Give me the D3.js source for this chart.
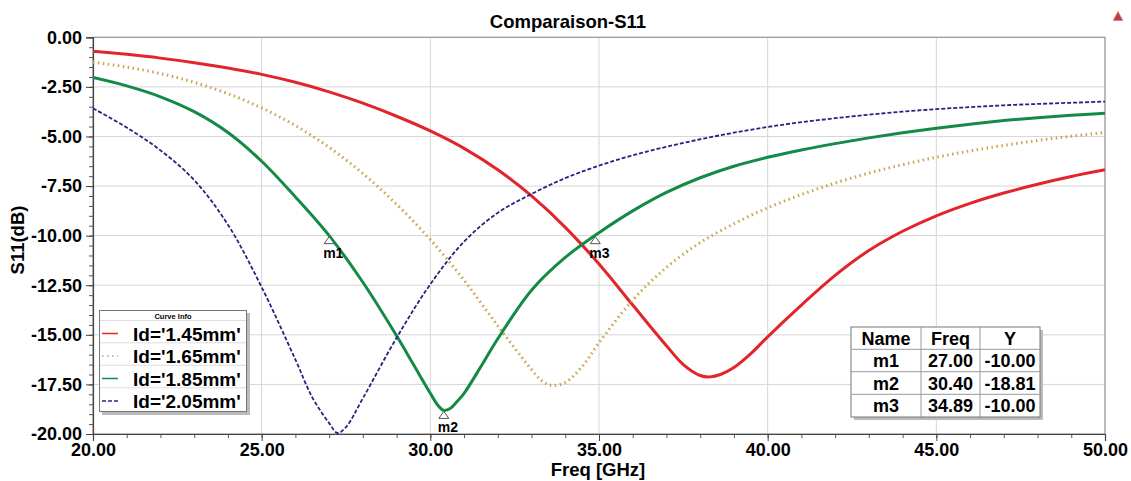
<!DOCTYPE html>
<html><head><meta charset="utf-8">
<script src="https://cdn.jsdelivr.net/npm/d3@7"></script>
<style>
body{margin:0;background:#fff;}
text{font-family:"Liberation Sans",Arial,sans-serif;font-weight:bold;fill:#000;}
</style>
</head><body><script>
const width = 1131, height = 481;

// series data (Freq in GHz, S11 in dB)
const seriesNames = ["Id='1.45mm'", "Id='1.65mm'", "Id='1.85mm'", "Id='2.05mm'"];
const freq145 = [20,21,22,23,24,25,26,27,28,29,30,31,32,33,34,35,36,37,37.5,38,38.3,38.6,39,39.5,40,41,42,43,44,45,46,47,48,49,50];
const s145 = [-0.70,-0.86,-1.05,-1.28,-1.55,-1.87,-2.27,-2.75,-3.32,-3.98,-4.72,-5.60,-6.68,-8.00,-9.58,-11.43,-13.5,-15.55,-16.5,-17.05,-17.12,-17.0,-16.65,-15.95,-15.1,-13.5,-12.0,-10.75,-9.78,-9.0,-8.37,-7.85,-7.41,-7.02,-6.68];
const freq165 = [20,21,22,23,24,25,26,27,28,29,30,31,32,33,33.3,33.6,34,34.5,35,36,37,38,39,40,41,42,43,44,45,46,47,48,49,50];
const s165 = [-1.25,-1.5,-1.83,-2.27,-2.84,-3.56,-4.45,-5.55,-6.87,-8.42,-10.2,-12.25,-14.55,-16.75,-17.3,-17.55,-17.4,-16.6,-15.4,-13.25,-11.6,-10.35,-9.4,-8.6,-7.93,-7.35,-6.85,-6.42,-6.05,-5.73,-5.45,-5.2,-4.99,-4.8];
const freq185 = [20,21,22,23,24,25,26,27,28,29,29.5,30,30.2,30.4,30.6,30.8,31,31.5,32,33,34,35,36,37,38,39,40,41,42,43,44,45,46,47,48,49,50];
const s185 = [-2.03,-2.45,-3.0,-3.75,-4.8,-6.25,-8.05,-10.0,-12.35,-15.05,-16.5,-17.95,-18.5,-18.81,-18.7,-18.35,-17.95,-16.6,-15.2,-12.75,-11.1,-9.85,-8.75,-7.82,-7.08,-6.5,-6.05,-5.68,-5.36,-5.07,-4.81,-4.58,-4.38,-4.2,-4.05,-3.93,-3.83];
const freq205 = [20,21,22,23,24,25,26,26.5,27,27.25,27.5,28,29,30,31,32,33,34,35,36,37,38,39,40,41,42,43,44,45,46,47,48,49,50];
const s205 = [-3.58,-4.55,-5.7,-7.2,-9.45,-12.6,-16.25,-18.15,-19.45,-19.95,-19.65,-18.2,-15.15,-12.45,-10.3,-8.85,-7.9,-7.1,-6.47,-5.95,-5.52,-5.14,-4.81,-4.52,-4.28,-4.08,-3.9,-3.75,-3.62,-3.52,-3.43,-3.36,-3.3,-3.24];

const markerNames = ["m1", "m2", "m3"];
const markerFreq = [27.00, 30.40, 34.89];
const markerY = [-10.00, -18.81, -10.00];

const xTicks = [20, 25, 30, 35, 40, 45, 50];
const yTicks = [0, -2.5, -5, -7.5, -10, -12.5, -15, -17.5, -20];

const colors = ["#e2242b", "#c9a24e", "#138a45", "#24247f"];
const widths = [3, 3, 3, 1.8];
const dashes = [null, "1.5,3.5", null, "4,2"];

const svg = d3.select("body").append("svg").attr("width", width).attr("height", height);
const pL = 93, pR = 1105, pT = 37.3, pB = 434;
const x = d3.scaleLinear().domain([20, 50]).range([pL, pR]);
const y = d3.scaleLinear().domain([-20, 0]).range([pB, pT]);

// title
svg.append("text").attr("x", 568).attr("y", 28).attr("text-anchor", "middle")
  .attr("font-size", "18.5px").text("Comparaison-S11");

// small warning triangle top right
svg.append("path").attr("d", "M1118,11.5 L1122.8,20.5 L1113.2,20.5 Z")
  .attr("fill", "#c23a3a").attr("stroke", "#d08080").attr("stroke-width", 0.8);

// grid
const grid = svg.append("g");
grid.selectAll("line.v").data(xTicks).join("line").attr("class", "v")
  .attr("x1", d => x(d)).attr("x2", d => x(d)).attr("y1", pT).attr("y2", pB)
  .attr("stroke", "#d6d6d6").attr("stroke-width", 1);
grid.selectAll("line.h").data(yTicks).join("line").attr("class", "h")
  .attr("x1", pL).attr("x2", pR).attr("y1", d => y(d)).attr("y2", d => y(d))
  .attr("stroke", "#d6d6d6").attr("stroke-width", 1);
svg.append("rect").attr("x", pL).attr("y", pT).attr("width", pR - pL).attr("height", pB - pT)
  .attr("fill", "none").attr("stroke", "#9a9a9a").attr("stroke-width", 1.2);

// axes
const fmt = d => d.toFixed(2);
svg.append("g").attr("transform", `translate(0,${pB})`)
  .call(d3.axisBottom(x).tickValues(d3.range(20, 51, 1)).tickSize(4).tickFormat(""))
  .call(g => g.select(".domain").remove())
  .call(g => g.selectAll("line").attr("stroke", "#555"));
svg.append("g").attr("transform", `translate(0,${pB})`)
  .call(d3.axisBottom(x).tickValues(xTicks).tickSize(7).tickPadding(2).tickFormat(fmt))
  .call(g => g.select(".domain").attr("stroke", "#444").attr("stroke-width", 1.2))
  .call(g => g.selectAll("line").attr("stroke", "#444"))
  .call(g => g.selectAll("text").attr("font-size", "18px").attr("font-family", null).attr("fill", "#000"));
svg.append("g").attr("transform", `translate(${pL},0)`)
  .call(d3.axisLeft(y).tickValues(d3.range(-20, 0.01, 0.5)).tickSize(4).tickFormat(""))
  .call(g => g.select(".domain").remove())
  .call(g => g.selectAll("line").attr("stroke", "#555"));
svg.append("g").attr("transform", `translate(${pL},0)`)
  .call(d3.axisLeft(y).tickValues(yTicks).tickSize(7).tickPadding(4).tickFormat(fmt))
  .call(g => g.select(".domain").attr("stroke", "#444").attr("stroke-width", 1.2))
  .call(g => g.selectAll("line").attr("stroke", "#444"))
  .call(g => g.selectAll("text").attr("font-size", "18px").attr("font-family", null).attr("fill", "#000"));

svg.append("text").attr("x", 598).attr("y", 476).attr("text-anchor", "middle")
  .attr("font-size", "18.5px").text("Freq [GHz]");
svg.append("text").attr("transform", "translate(24,240) rotate(-90)").attr("text-anchor", "middle")
  .attr("font-size", "18.5px").text("S11(dB)");

// curves
svg.append("clipPath").attr("id", "plotclip").append("rect")
  .attr("x", pL).attr("y", pT - 2).attr("width", pR - pL).attr("height", pB - pT + 4);
const series = [[freq145, s145], [freq165, s165], [freq185, s185], [freq205, s205]]
  .map(([f, s]) => f.map((d, i) => [d, s[i]]));
const line = d3.line().x(d => x(d[0])).y(d => y(d[1])).curve(d3.curveCatmullRom.alpha(0.5));
svg.append("g").attr("clip-path", "url(#plotclip)").selectAll("path").data(series).join("path")
  .attr("d", line).attr("fill", "none")
  .attr("stroke", (d, i) => colors[i]).attr("stroke-width", (d, i) => widths[i])
  .attr("stroke-dasharray", (d, i) => dashes[i]);

// markers
const mk = svg.append("g");
markerNames.forEach((n, i) => {
  const px = x(markerFreq[i]), py = y(markerY[i]);
  mk.append("path").attr("d", `M${px},${py + 1} L${px + 5},${py + 8} L${px - 5},${py + 8} Z`)
    .attr("fill", "#fff").attr("stroke", "#555").attr("stroke-width", 1);
  mk.append("text").attr("x", px - 6).attr("y", py + 22).attr("font-size", "14px").text(n);
});

// legend
const lg = svg.append("g");
lg.append("rect").attr("x", 102).attr("y", 313).attr("width", 148).attr("height", 102).attr("fill", "#bbb");
lg.append("rect").attr("x", 99.5).attr("y", 310.5).attr("width", 147).attr("height", 101)
  .attr("fill", "#fff").attr("stroke", "#777").attr("stroke-width", 1);
lg.append("text").attr("x", 173).attr("y", 318.5).attr("text-anchor", "middle")
  .attr("font-size", "7.5px").attr("font-weight", "normal").attr("fill", "#444").text("Curve Info");
const rowY = d3.range(4).map(i => 331.5 + i * 22.5);
lg.selectAll("line.sep").data([320.5, 342.8, 365.3, 387.8]).join("line").attr("class", "sep")
  .attr("x1", 100).attr("x2", 246).attr("y1", d => d).attr("y2", d => d).attr("stroke", "#ddd");
seriesNames.forEach((n, i) => {
  lg.append("line").attr("x1", 102).attr("x2", 118).attr("y1", rowY[i] + 2).attr("y2", rowY[i] + 2)
    .attr("stroke", colors[i]).attr("stroke-width", 1.5).attr("stroke-dasharray", dashes[i]);
  lg.append("text").attr("x", 133).attr("y", rowY[i] + 9).attr("font-size", "19px").text(n);
});

// marker table
const tb = svg.append("g");
const colX = [851, 921, 980, 1040];
const rowT = [327, 349.3, 371.7, 394.3, 417];
tb.append("rect").attr("x", colX[0] + 3).attr("y", rowT[0] + 3).attr("width", colX[3] - colX[0]).attr("height", rowT[4] - rowT[0]).attr("fill", "#bbb");
tb.append("rect").attr("x", colX[0]).attr("y", rowT[0]).attr("width", colX[3] - colX[0]).attr("height", rowT[4] - rowT[0])
  .attr("fill", "#fff").attr("stroke", "#777");
colX.slice(1, 3).forEach(cx => tb.append("line").attr("x1", cx).attr("x2", cx).attr("y1", rowT[0]).attr("y2", rowT[4]).attr("stroke", "#999"));
rowT.slice(1, 4).forEach(ry => tb.append("line").attr("x1", colX[0]).attr("x2", colX[3]).attr("y1", ry).attr("y2", ry).attr("stroke", "#999"));
const cells = [["Name", "Freq", "Y"]].concat(markerNames.map((n, i) => [n, markerFreq[i].toFixed(2), markerY[i].toFixed(2)]));
cells.forEach((row, r) => row.forEach((c, k) => {
  tb.append("text").attr("x", (colX[k] + colX[k + 1]) / 2).attr("y", (rowT[r] + rowT[r + 1]) / 2 + 6.5)
    .attr("text-anchor", "middle").attr("font-size", "18px").text(c);
}));
</script></body></html>
